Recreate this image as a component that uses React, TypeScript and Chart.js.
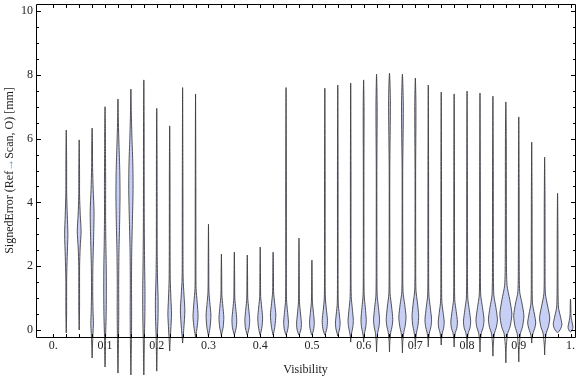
import { useEffect, useRef } from 'react';
import { Chart, registerables } from 'chart.js';

Chart.register(...registerables);

// ---- data ----
const visibility = [
  0.025, 0.05, 0.075, 0.1, 0.125, 0.15, 0.175, 0.2, 0.225, 0.25,
  0.275, 0.3, 0.325, 0.35, 0.375, 0.4, 0.425, 0.45, 0.475, 0.5,
  0.525, 0.55, 0.575, 0.6, 0.625, 0.65, 0.675, 0.7, 0.725, 0.75,
  0.775, 0.8, 0.825, 0.85, 0.875, 0.9, 0.925, 0.95, 0.975, 1.0,
];

const violinMin = [
  -0.09, 0.0, -0.88, -1.16, -1.35, -1.41, -1.41, -1.29, -0.66, -0.41,
  -0.25, -0.2, -0.18, -0.16, -0.16, -0.16, -0.16, -0.16, -0.16, -0.16,
  -0.16, -0.19, -0.38, -0.38, -0.69, -0.69, -0.72, -0.53, -0.53, -0.47,
  -0.53, -0.56, -0.69, -0.82, -1.03, -1.0, -0.41, -0.78, -0.09, -0.06,
];

const violinMax = [
  6.27, 5.96, 6.33, 7.0, 7.24, 7.55, 7.84, 6.95, 6.4, 7.6,
  7.4, 3.32, 2.38, 2.44, 2.35, 2.6, 2.44, 7.6, 2.88, 2.19,
  7.58, 7.68, 7.74, 7.84, 8.02, 8.05, 8.02, 7.9, 7.68, 7.46,
  7.4, 7.49, 7.43, 7.33, 7.15, 6.68, 5.89, 5.42, 4.29, 0.97,
];

// density profile of each violin: [signed error, relative density]
const violinProfiles: number[][][] = [
  [[0.5,0.06],[1.6,0.07],[2.3,0.16],[3.0,0.27],[3.6,0.17],[4.3,0.07],[5.3,0.06]],
  [[0.6,0.06],[2.0,0.07],[2.6,0.17],[3.1,0.32],[3.6,0.18],[4.2,0.07],[5.0,0.06]],
  [[-0.5,0.06],[-0.1,0.14],[0.2,0.22],[0.6,0.15],[1.2,0.1],[2.0,0.13],[2.9,0.25],[3.7,0.32],[4.4,0.18],[5.1,0.08],[5.8,0.06]],
  [[-0.8,0.05],[-0.2,0.09],[0.4,0.18],[1.2,0.22],[2.0,0.2],[2.8,0.13],[3.6,0.09],[4.6,0.1],[5.6,0.07],[6.4,0.05]],
  [[-0.9,0.05],[-0.3,0.09],[0.5,0.13],[1.5,0.12],[2.5,0.17],[3.3,0.27],[4.2,0.34],[5.0,0.3],[5.8,0.17],[6.5,0.07]],
  [[-0.9,0.05],[-0.3,0.09],[0.5,0.12],[1.5,0.1],[2.5,0.14],[3.4,0.25],[4.4,0.36],[5.2,0.32],[6.0,0.18],[6.8,0.07]],
  [[-0.9,0.05],[-0.3,0.09],[0.4,0.17],[1.2,0.19],[2.2,0.12],[3.5,0.07],[5.0,0.06],[6.5,0.05]],
  [[-0.8,0.05],[-0.2,0.1],[0.4,0.21],[0.9,0.23],[1.6,0.13],[2.5,0.07],[4.0,0.06],[5.5,0.05]],
  [[-0.4,0.06],[0.0,0.18],[0.5,0.3],[1.0,0.2],[1.6,0.09],[3.0,0.06],[5.0,0.05]],
  [[-0.25,0.06],[0.05,0.2],[0.6,0.37],[1.1,0.23],[1.6,0.09],[2.5,0.06],[4.5,0.05]],
  [[-0.15,0.06],[0.05,0.24],[0.42,0.42],[0.85,0.28],[1.3,0.09],[2.2,0.06],[4.5,0.05]],
  [[-0.12,0.07],[0.1,0.28],[0.47,0.4],[0.8,0.25],[1.2,0.08],[2.0,0.05]],
  [[-0.1,0.08],[0.1,0.3],[0.4,0.4],[0.75,0.24],[1.1,0.08],[1.7,0.05]],
  [[-0.1,0.1],[0.08,0.32],[0.32,0.4],[0.65,0.25],[1.0,0.08],[1.7,0.05]],
  [[-0.1,0.1],[0.08,0.32],[0.32,0.4],[0.65,0.25],[1.0,0.08],[1.7,0.05]],
  [[-0.1,0.09],[0.1,0.3],[0.38,0.4],[0.72,0.25],[1.05,0.08],[1.8,0.05]],
  [[-0.1,0.08],[0.12,0.3],[0.47,0.45],[0.82,0.27],[1.2,0.08],[1.8,0.05]],
  [[-0.1,0.12],[0.05,0.32],[0.25,0.4],[0.55,0.26],[0.95,0.08],[2.0,0.05],[5.0,0.05]],
  [[-0.1,0.14],[0.03,0.34],[0.22,0.4],[0.5,0.26],[0.9,0.08],[1.8,0.05]],
  [[-0.1,0.12],[0.05,0.32],[0.25,0.39],[0.55,0.25],[0.9,0.08],[1.5,0.05]],
  [[-0.1,0.12],[0.05,0.34],[0.3,0.44],[0.6,0.28],[1.0,0.09],[2.0,0.05],[5.0,0.05]],
  [[-0.1,0.12],[0.03,0.3],[0.22,0.39],[0.5,0.25],[0.85,0.08],[2.0,0.05],[5.0,0.05]],
  [[-0.2,0.06],[-0.05,0.2],[0.1,0.36],[0.3,0.44],[0.65,0.28],[1.05,0.09],[2.2,0.05],[5.0,0.05]],
  [[-0.2,0.06],[-0.05,0.2],[0.1,0.36],[0.32,0.44],[0.7,0.28],[1.1,0.09],[2.2,0.05],[5.0,0.05],[7.0,0.07]],
  [[-0.4,0.05],[-0.08,0.2],[0.1,0.4],[0.32,0.5],[0.7,0.32],[1.1,0.1],[2.2,0.06],[5.0,0.05],[7.0,0.1]],
  [[-0.4,0.05],[-0.08,0.2],[0.1,0.42],[0.33,0.55],[0.72,0.36],[1.15,0.1],[2.2,0.06],[5.0,0.05],[7.2,0.15]],
  [[-0.4,0.05],[-0.08,0.22],[0.12,0.45],[0.4,0.6],[0.8,0.38],[1.2,0.1],[2.3,0.06],[5.0,0.05],[7.0,0.15]],
  [[-0.3,0.05],[-0.06,0.22],[0.15,0.44],[0.45,0.55],[0.85,0.35],[1.25,0.1],[2.3,0.06],[5.0,0.05],[7.0,0.1]],
  [[-0.3,0.05],[-0.06,0.22],[0.1,0.44],[0.32,0.55],[0.7,0.34],[1.1,0.1],[2.2,0.06],[5.0,0.05]],
  [[-0.3,0.05],[-0.08,0.2],[0.05,0.4],[0.25,0.5],[0.55,0.32],[0.9,0.1],[2.0,0.06],[5.0,0.05]],
  [[-0.3,0.05],[-0.08,0.2],[0.05,0.44],[0.25,0.55],[0.58,0.35],[0.95,0.1],[2.0,0.06],[5.0,0.05]],
  [[-0.3,0.05],[-0.08,0.22],[0.06,0.48],[0.27,0.6],[0.62,0.38],[1.0,0.12],[2.0,0.06],[5.0,0.05]],
  [[-0.4,0.05],[-0.08,0.24],[0.08,0.52],[0.32,0.67],[0.7,0.42],[1.1,0.12],[2.2,0.06],[5.0,0.05]],
  [[-0.5,0.05],[-0.1,0.25],[0.07,0.55],[0.32,0.75],[0.7,0.5],[1.1,0.15],[2.2,0.07],[5.0,0.06]],
  [[-0.6,0.05],[-0.12,0.28],[0.1,0.7],[0.5,1.0],[0.95,0.65],[1.4,0.2],[2.2,0.1],[4.0,0.08],[6.0,0.07]],
  [[-0.6,0.05],[-0.12,0.26],[0.1,0.62],[0.45,0.85],[0.85,0.52],[1.2,0.15],[2.2,0.07],[4.5,0.06]],
  [[-0.25,0.06],[-0.08,0.25],[0.05,0.5],[0.22,0.67],[0.5,0.45],[0.85,0.12],[2.0,0.07],[4.0,0.06]],
  [[-0.5,0.05],[-0.1,0.26],[0.08,0.6],[0.38,0.85],[0.75,0.5],[1.15,0.12],[2.2,0.07],[4.0,0.06]],
  [[-0.05,0.2],[0.05,0.55],[0.18,0.72],[0.4,0.5],[0.72,0.15],[1.5,0.07],[3.0,0.06]],
  [[-0.03,0.2],[0.05,0.38],[0.12,0.4],[0.25,0.25],[0.45,0.08],[0.75,0.05]],
];

const yTickValues = [0, 2, 4, 6, 8, 10];
const yTickLabels = ['0', '2', '4', '6', '8', '10'];
const yMinorTicks = [0.5, 1, 1.5, 2.5, 3, 3.5, 4.5, 5, 5.5, 6.5, 7, 7.5, 8.5, 9, 9.5];
const xTickValues = [0, 0.1, 0.2, 0.3, 0.4, 0.5, 0.6, 0.7, 0.8, 0.9, 1.0];
const xTickLabels = ['0.', '0.1', '0.2', '0.3', '0.4', '0.5', '0.6', '0.7', '0.8', '0.9', '1.'];
const xFrameTicks = [0, ...visibility];

// ---- style ----
const X_MIN = -0.0335;
const X_MAX = 1.0087;
const Y_MIN = -0.22;
const Y_MAX = 10.22;
const HALF_WIDTH = 0.0116; // x-units per density unit
const FILL = 'rgb(200, 207, 245)';
const EDGE = 'rgba(55, 55, 60, 0.85)';
const FONT = "'Liberation Serif', 'Times New Roman', serif";
const TEXT = '#222';
const ARROW = '#3f93d6';

const framePlugin = {
  id: 'frame',
  afterDatasetsDraw(chart: any) {
    const { ctx, chartArea: a, scales } = chart;
    const x = scales.x;
    const y = scales.y;
    ctx.save();
    ctx.strokeStyle = '#000';
    ctx.lineWidth = 1;
    ctx.beginPath();
    ctx.rect(a.left + 0.5, a.top + 0.5, a.right - a.left, a.bottom - a.top);
    ctx.stroke();
    ctx.beginPath();
    const yTick = (v: number, len: number) => {
      const py = Math.round(y.getPixelForValue(v)) + 0.5;
      ctx.moveTo(a.left, py);
      ctx.lineTo(a.left + len, py);
      ctx.moveTo(a.right + 1, py);
      ctx.lineTo(a.right + 1 - len, py);
    };
    yTickValues.forEach((v) => yTick(v, 5));
    yMinorTicks.forEach((v) => yTick(v, 3));
    xFrameTicks.forEach((v) => {
      const px = Math.round(x.getPixelForValue(v)) + 0.5;
      ctx.moveTo(px, a.top);
      ctx.lineTo(px, a.top + 4);
      ctx.moveTo(px, a.bottom + 1);
      ctx.lineTo(px, a.bottom + 1 - 4);
    });
    ctx.stroke();
    ctx.restore();
  },
  afterDraw(chart: any) {
    const { ctx, chartArea: a } = chart;
    ctx.save();
    ctx.font = `12px ${FONT}`;
    ctx.fillStyle = TEXT;
    ctx.textBaseline = 'alphabetic';
    ctx.textAlign = 'center';
    ctx.fillText('Visibility', (a.left + a.right) / 2, 373);
    // y title with coloured arrow
    const parts: [string, string][] = [
      ['SignedError (Ref', TEXT],
      ['\u2192', ARROW],
      ['Scan, O) [mm]', TEXT],
    ];
    const total = parts.reduce((s, p) => s + ctx.measureText(p[0]).width, 0);
    ctx.translate(13, (a.top + a.bottom) / 2);
    ctx.rotate(-Math.PI / 2);
    ctx.textAlign = 'left';
    let cx = -total / 2;
    for (const [t, c] of parts) {
      ctx.fillStyle = c;
      ctx.fillText(t, cx, 0);
      cx += ctx.measureText(t).width;
    }
    ctx.restore();
  },
};

export default function App() {
  const ref = useRef<HTMLCanvasElement | null>(null);
  useEffect(() => {
    if (!ref.current) return;
    const datasets = visibility.map((v, i) => {
      const prof = violinProfiles[i];
      const right = prof.map(([yv, d]) => ({ x: v + d * HALF_WIDTH, y: yv }));
      const left = prof
        .slice()
        .reverse()
        .map(([yv, d]) => ({ x: v - d * HALF_WIDTH, y: yv }));
      const data = [
        { x: v, y: violinMin[i] },
        ...right,
        { x: v, y: violinMax[i] },
        ...left,
        { x: v, y: violinMin[i] },
      ];
      return {
        data,
        showLine: true,
        fill: 'shape',
        backgroundColor: FILL,
        borderColor: EDGE,
        borderWidth: 1,
        tension: 0.25,
        pointRadius: 0,
        pointHoverRadius: 0,
        clip: false as any,
      };
    });
    const chart = new Chart(ref.current, {
      type: 'scatter',
      data: { datasets: datasets as any },
      options: {
        responsive: false,
        animation: false,
        events: [],
        layout: { padding: { top: 4, right: 1, left: 0, bottom: 0 } },
        plugins: {
          legend: { display: false },
          tooltip: { enabled: false },
        },
        elements: {
          point: { radius: 0 },
          line: { capBezierPoints: false },
        },
        scales: {
          x: {
            type: 'linear',
            min: X_MIN,
            max: X_MAX,
            grid: { display: false, drawTicks: false },
            border: { display: false },
            afterBuildTicks: (s: any) => {
              s.ticks = xTickValues.map((v) => ({ value: v }));
            },
            afterFit: (s: any) => {
              s.height = 40;
              s.paddingLeft = 0;
              s.paddingRight = 0;
            },
            ticks: {
              autoSkip: false,
              maxRotation: 0,
              padding: 2,
              color: TEXT,
              font: { family: FONT, size: 12 },
              callback: (val: any) => {
                const idx = xTickValues.findIndex((t) => Math.abs(t - Number(val)) < 1e-6);
                return idx >= 0 ? xTickLabels[idx] : '';
              },
            },
          },
          y: {
            type: 'linear',
            min: Y_MIN,
            max: Y_MAX,
            grid: { display: false, drawTicks: false },
            border: { display: false },
            afterBuildTicks: (s: any) => {
              s.ticks = yTickValues.map((v) => ({ value: v }));
            },
            afterFit: (s: any) => {
              s.width = 36;
              s.paddingTop = 0;
              s.paddingBottom = 0;
            },
            ticks: {
              autoSkip: false,
              padding: 3,
              color: TEXT,
              font: { family: FONT, size: 12 },
              callback: (val: any) => {
                const idx = yTickValues.findIndex((t) => Math.abs(t - Number(val)) < 1e-6);
                return idx >= 0 ? yTickLabels[idx] : '';
              },
            },
          },
        },
      },
      plugins: [framePlugin],
    });
    return () => chart.destroy();
  }, []);
  return (
    <div style={{ position: 'absolute', left: 0, top: 0, width: 576, height: 377 }}>
      <canvas ref={ref} width={576} height={377} style={{ display: 'block' }} />
    </div>
  );
}
